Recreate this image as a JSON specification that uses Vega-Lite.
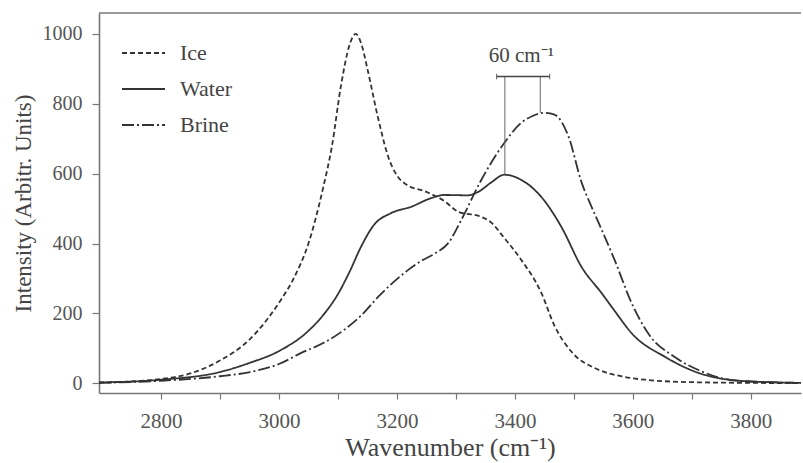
{
  "$schema": "https://vega.github.io/schema/vega-lite/v6.json",
  "width": 702,
  "height": 380,
  "autosize": "none",
  "padding": {"left": 99, "top": 13, "right": 2, "bottom": 70},
  "background": "white",
  "config": {
    "view": {"stroke": null},
    "font": "Liberation Serif",
    "axis": {"labelFont": "Liberation Serif", "titleFont": "Liberation Serif", "labelColor": "#555", "titleColor": "#444", "titleFontWeight": "normal", "domainColor": "#777", "domainWidth": 1.6, "tickColor": "#777", "tickWidth": 1.2, "grid": false}
  },
  "datasets": {
    "spectra": [
      {"series": "Ice", "wn": 2695, "val": 2},
      {"series": "Ice", "wn": 2750, "val": 5},
      {"series": "Ice", "wn": 2800, "val": 12},
      {"series": "Ice", "wn": 2850, "val": 28},
      {"series": "Ice", "wn": 2900, "val": 65},
      {"series": "Ice", "wn": 2950, "val": 125},
      {"series": "Ice", "wn": 3000, "val": 230},
      {"series": "Ice", "wn": 3025, "val": 300},
      {"series": "Ice", "wn": 3050, "val": 400},
      {"series": "Ice", "wn": 3075, "val": 560},
      {"series": "Ice", "wn": 3090, "val": 680},
      {"series": "Ice", "wn": 3105, "val": 850},
      {"series": "Ice", "wn": 3120, "val": 970},
      {"series": "Ice", "wn": 3130, "val": 1000},
      {"series": "Ice", "wn": 3140, "val": 970},
      {"series": "Ice", "wn": 3150, "val": 900},
      {"series": "Ice", "wn": 3168, "val": 760},
      {"series": "Ice", "wn": 3185, "val": 650},
      {"series": "Ice", "wn": 3200, "val": 595},
      {"series": "Ice", "wn": 3215, "val": 570},
      {"series": "Ice", "wn": 3250, "val": 548},
      {"series": "Ice", "wn": 3280, "val": 522},
      {"series": "Ice", "wn": 3305, "val": 490},
      {"series": "Ice", "wn": 3340, "val": 478},
      {"series": "Ice", "wn": 3360, "val": 460},
      {"series": "Ice", "wn": 3380, "val": 420},
      {"series": "Ice", "wn": 3410, "val": 355},
      {"series": "Ice", "wn": 3445, "val": 258},
      {"series": "Ice", "wn": 3467, "val": 165},
      {"series": "Ice", "wn": 3496, "val": 90},
      {"series": "Ice", "wn": 3540, "val": 40},
      {"series": "Ice", "wn": 3580, "val": 20},
      {"series": "Ice", "wn": 3620, "val": 10},
      {"series": "Ice", "wn": 3700, "val": 3},
      {"series": "Ice", "wn": 3800, "val": 1},
      {"series": "Ice", "wn": 3885, "val": 0},
      {"series": "Water", "wn": 2695, "val": 2},
      {"series": "Water", "wn": 2800, "val": 10},
      {"series": "Water", "wn": 2900, "val": 32},
      {"series": "Water", "wn": 2950, "val": 58},
      {"series": "Water", "wn": 3000, "val": 92},
      {"series": "Water", "wn": 3050, "val": 150},
      {"series": "Water", "wn": 3075, "val": 195},
      {"series": "Water", "wn": 3100, "val": 255},
      {"series": "Water", "wn": 3120, "val": 320},
      {"series": "Water", "wn": 3139, "val": 390},
      {"series": "Water", "wn": 3161, "val": 453},
      {"series": "Water", "wn": 3190, "val": 487},
      {"series": "Water", "wn": 3224, "val": 505},
      {"series": "Water", "wn": 3258, "val": 530},
      {"series": "Water", "wn": 3280, "val": 539},
      {"series": "Water", "wn": 3320, "val": 538},
      {"series": "Water", "wn": 3338, "val": 548},
      {"series": "Water", "wn": 3360, "val": 575},
      {"series": "Water", "wn": 3382, "val": 597},
      {"series": "Water", "wn": 3411, "val": 582},
      {"series": "Water", "wn": 3445, "val": 533},
      {"series": "Water", "wn": 3479, "val": 447},
      {"series": "Water", "wn": 3513, "val": 333},
      {"series": "Water", "wn": 3547, "val": 258},
      {"series": "Water", "wn": 3570, "val": 205},
      {"series": "Water", "wn": 3598, "val": 143},
      {"series": "Water", "wn": 3655, "val": 75},
      {"series": "Water", "wn": 3712, "val": 29},
      {"series": "Water", "wn": 3768, "val": 9},
      {"series": "Water", "wn": 3830, "val": 3},
      {"series": "Water", "wn": 3885, "val": 1},
      {"series": "Brine", "wn": 2695, "val": 1},
      {"series": "Brine", "wn": 2800, "val": 7},
      {"series": "Brine", "wn": 2900, "val": 20},
      {"series": "Brine", "wn": 2951, "val": 32},
      {"series": "Brine", "wn": 3000, "val": 55},
      {"series": "Brine", "wn": 3037, "val": 86},
      {"series": "Brine", "wn": 3075, "val": 115},
      {"series": "Brine", "wn": 3110, "val": 152},
      {"series": "Brine", "wn": 3140, "val": 195},
      {"series": "Brine", "wn": 3168, "val": 247},
      {"series": "Brine", "wn": 3212, "val": 315},
      {"series": "Brine", "wn": 3241, "val": 350},
      {"series": "Brine", "wn": 3265, "val": 372},
      {"series": "Brine", "wn": 3287, "val": 401},
      {"series": "Brine", "wn": 3309, "val": 467},
      {"series": "Brine", "wn": 3343, "val": 582},
      {"series": "Brine", "wn": 3382, "val": 688},
      {"series": "Brine", "wn": 3411, "val": 746},
      {"series": "Brine", "wn": 3430, "val": 765},
      {"series": "Brine", "wn": 3450, "val": 774},
      {"series": "Brine", "wn": 3467, "val": 769},
      {"series": "Brine", "wn": 3491, "val": 706},
      {"series": "Brine", "wn": 3513, "val": 575},
      {"series": "Brine", "wn": 3530, "val": 505},
      {"series": "Brine", "wn": 3547, "val": 440},
      {"series": "Brine", "wn": 3569, "val": 353},
      {"series": "Brine", "wn": 3598, "val": 229},
      {"series": "Brine", "wn": 3627, "val": 140},
      {"series": "Brine", "wn": 3671, "val": 75},
      {"series": "Brine", "wn": 3712, "val": 37},
      {"series": "Brine", "wn": 3768, "val": 9},
      {"series": "Brine", "wn": 3830, "val": 3},
      {"series": "Brine", "wn": 3885, "val": 1}
    ],
    "vlines": [
      {"x": 3383, "y": 597, "y2": 878},
      {"x": 3443, "y": 775, "y2": 878},
      {"x": 3369, "y": 870, "y2": 886},
      {"x": 3459, "y": 870, "y2": 886}
    ],
    "hlines": [
      {"x": 3369, "x2": 3459, "y": 878}
    ],
    "labels": [
      {"x": 3411, "y": 937, "text": "60 cm⁻¹"}
    ],
    "frame": [
      {"y": 1060}
    ]
  },
  "layer": [
    {
      "data": {"name": "frame"},
      "mark": {"type": "rule", "color": "#777", "strokeWidth": 1.6},
      "encoding": {"y": {"field": "y", "type": "quantitative", "scale": {"domain": [-28, 1060]}}}
    },
    {
      "data": {"name": "spectra"},
      "mark": {"type": "line", "interpolate": "monotone", "strokeWidth": 1.8, "color": "#333", "clip": true},
      "encoding": {
        "x": {"field": "wn", "type": "quantitative", "scale": {"domain": [2695, 3885], "nice": false, "zero": false},
          "axis": {"title": "Wavenumber (cm⁻¹)", "values": [2800, 2900, 3000, 3100, 3200, 3300, 3400, 3500, 3600, 3700, 3800],
            "labelExpr": "datum.value % 200 == 0 ? datum.label : ''", "format": "d", "labelFontSize": 21, "titleFontSize": 26, "tickSize": 6, "labelPadding": 11, "titlePadding": 3, "offset": 0}},
        "y": {"field": "val", "type": "quantitative", "scale": {"domain": [-28, 1060], "nice": false, "zero": false},
          "axis": {"title": "Intensity (Arbitr. Units)", "values": [0, 100, 200, 300, 400, 500, 600, 700, 800, 900, 1000],
            "labelExpr": "datum.value % 200 == 0 ? datum.label : ''", "format": "d", "labelFontSize": 20, "titleFontSize": 23, "tickSize": 7, "labelPadding": 10, "titlePadding": 7}},
        "strokeDash": {"field": "series", "type": "nominal",
          "scale": {"domain": ["Ice", "Water", "Brine"], "range": [[5, 3], [1, 0], [12, 3, 2, 3]]},
          "legend": {"title": null, "orient": "none", "legendX": 22, "legendY": 29, "symbolType": "stroke", "symbolSize": 1849, "symbolStrokeWidth": 1.8, "symbolStrokeColor": "#333", "labelFont": "Liberation Serif", "labelFontSize": 22, "labelColor": "#444", "labelOffset": 14, "clipHeight": 22, "rowPadding": 14, "padding": 0}}
      }
    },
    {
      "data": {"name": "vlines"},
      "mark": {"type": "rule", "color": "#666", "strokeWidth": 1},
      "encoding": {
        "x": {"field": "x", "type": "quantitative"},
        "y": {"field": "y", "type": "quantitative"},
        "y2": {"field": "y2"}
      }
    },
    {
      "data": {"name": "hlines"},
      "mark": {"type": "rule", "color": "#444", "strokeWidth": 1.6},
      "encoding": {
        "x": {"field": "x", "type": "quantitative"},
        "x2": {"field": "x2"},
        "y": {"field": "y", "type": "quantitative"}
      }
    },
    {
      "data": {"name": "labels"},
      "mark": {"type": "text", "font": "Liberation Serif", "fontSize": 21, "color": "#444", "baseline": "middle", "align": "center"},
      "encoding": {
        "x": {"field": "x", "type": "quantitative"},
        "y": {"field": "y", "type": "quantitative"},
        "text": {"field": "text"}
      }
    }
  ]
}
